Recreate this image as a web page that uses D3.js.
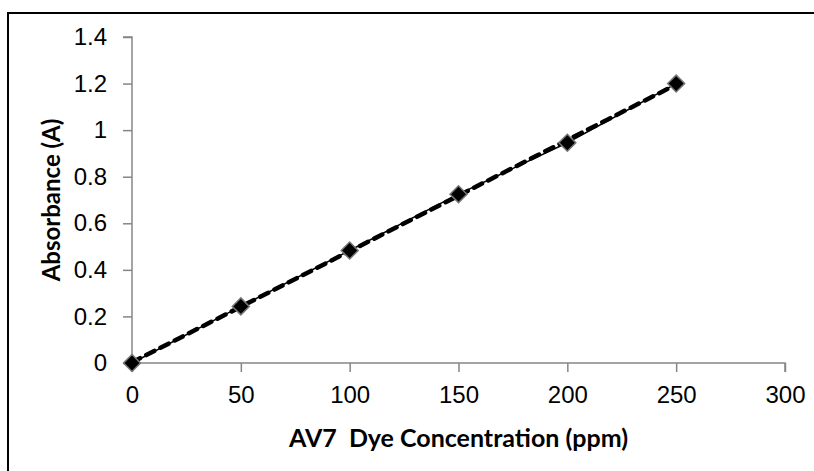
<!DOCTYPE html>
<html>
<head>
<meta charset="utf-8">
<script src="https://cdn.jsdelivr.net/npm/d3@7"></script>
<style>
  body { margin: 0; background: #fff; }
  svg { display: block; font-family: Lato, "Noto Sans", sans-serif; }
</style>
</head>
<body>
<div id="chart"></div>
<script>
// concentration (ppm) and measured absorbance
var conc = [0, 50, 100, 150, 200, 250];
var absorb = [0, 0.243, 0.483, 0.725, 0.946, 1.2];
var xTicks = [0, 50, 100, 150, 200, 250, 300];
var yTicks = [0, 0.2, 0.4, 0.6, 0.8, 1, 1.2, 1.4];
var xTitle = "AV7  Dye Concentration (ppm)";
var yTitle = "Absorbance (A)";

var W = 814, H = 471;
var plot = {left: 132, right: 785, top: 37, bottom: 363};

var svg = d3.select("#chart")
  .append("svg")
  .attr("width", W)
  .attr("height", H);

// outer chart border (runs off the right and bottom edges)
svg.append("rect")
  .attr("x", 8)
  .attr("y", 13)
  .attr("width", 830)
  .attr("height", 480)
  .attr("fill", "none")
  .attr("stroke", "#000")
  .attr("stroke-width", 2);

var x = d3.scaleLinear().domain([0, 300]).range([plot.left, plot.right]);
var y = d3.scaleLinear().domain([0, 1.4]).range([plot.bottom, plot.top]);

var axisColor = "#868686";

var gx = svg.append("g")
  .attr("transform", "translate(0," + plot.bottom + ")")
  .call(d3.axisBottom(x).tickValues(xTicks).tickFormat(d3.format("d")).tickSizeOuter(9).tickSizeInner(9).tickPadding(14));

var gy = svg.append("g")
  .attr("transform", "translate(" + plot.left + ",0)")
  .call(d3.axisLeft(y).tickValues(yTicks).tickFormat(function(d) { return d === 0 || d === 1 ? d : d.toFixed(1); }).tickSizeOuter(9).tickSizeInner(9).tickPadding(16));

[gx, gy].forEach(function(g) {
  g.select(".domain").attr("stroke", axisColor).attr("stroke-width", 1.5);
  g.selectAll(".tick line").attr("stroke", axisColor).attr("stroke-width", 1.5);
  g.selectAll(".tick text")
    .attr("fill", "#000")
    .style("font-size", "24px");
});
// d3 draws outer ticks into the domain path; keep only the line
gx.select(".domain").attr("d", "M" + plot.left + ",0H" + plot.right + "V9");
gy.select(".domain").attr("d", "M-9," + plot.top + "H0V" + plot.bottom);

// linear trendline through the data (least squares)
var mx = d3.mean(conc), my = d3.mean(absorb);
var slope = d3.sum(conc, function(c, i) { return (c - mx) * (absorb[i] - my); }) /
            d3.sum(conc, function(c) { return (c - mx) * (c - mx); });
var icpt = my - slope * mx;
var xmax = d3.max(conc);

var pts = conc.map(function(c, i) { return [c, absorb[i]]; });

// thin solid line joining the points
svg.append("path")
  .datum(pts)
  .attr("fill", "none")
  .attr("stroke", "#000")
  .attr("stroke-width", 1.5)
  .attr("d", d3.line().x(function(d) { return x(d[0]); }).y(function(d) { return y(d[1]); }));

// dashed trendline
svg.append("line")
  .attr("x1", x(0)).attr("y1", y(icpt))
  .attr("x2", x(xmax)).attr("y2", y(icpt + slope * xmax))
  .attr("stroke", "#000")
  .attr("stroke-width", 4.5)
  .attr("stroke-linecap", "round")
  .attr("stroke-dasharray", "9,7");

// diamond markers
svg.selectAll(".pt")
  .data(pts)
  .enter()
  .append("rect")
  .attr("class", "pt")
  .attr("x", -6).attr("y", -6)
  .attr("width", 12).attr("height", 12)
  .attr("fill", "#000")
  .attr("stroke", "#777")
  .attr("stroke-width", 1.5)
  .attr("transform", function(d) { return "translate(" + x(d[0]) + "," + y(d[1]) + ") rotate(45)"; });

// axis titles
svg.append("text")
  .attr("x", (plot.left + plot.right) / 2)
  .attr("y", 447)
  .attr("text-anchor", "middle")
  .style("font-size", "25px")
  .style("font-weight", "bold")
  .style("white-space", "pre")
  .text(xTitle);

svg.append("text")
  .attr("transform", "translate(60,200) rotate(-90)")
  .attr("text-anchor", "middle")
  .style("font-size", "24px")
  .style("font-weight", "bold")
  .text(yTitle);
</script>
</body>
</html>
